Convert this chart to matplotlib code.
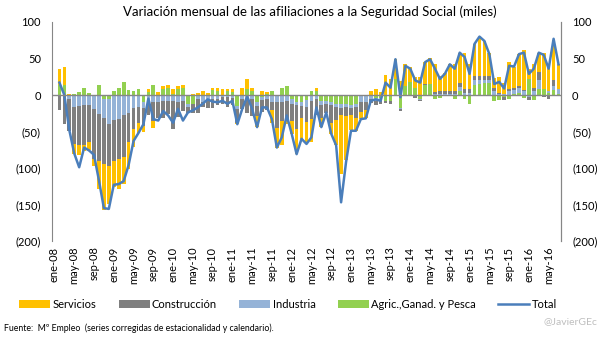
import numpy as np
import matplotlib.pyplot as plt

# monthly change in social security affiliation (thousands), ene-08 .. jul-16
meses = ['ene', 'feb', 'mar', 'abr', 'may', 'jun', 'jul', 'ago', 'sep', 'oct', 'nov', 'dic']
categorias = ['%s-%02d' % (m, a % 100) for a in range(2008, 2017) for m in meses][:103]

servicios = [np.nan,
    21, 24, 2, -14, -14, -8, -11, -9, -39, -64,
    -52, -35, -41, -37, -37, -25, -14, -9, 4, -10,
    4, 4, 4, 6, 5, 5, 0, 2, 3, 6,
    3, 3, 4, 8, 2, 4, -2, 10, 14, 4,
    -15, 6, 2, -18, -27, -33, -7, -17, -35, -28,
    -30, -31, 4, -12, 0, -15, -35, -80, -60, -20,
    -18, -10, -12, 6, 8, 4, 28, 22, 27, 19,
    30, 20, 14, 25, 30, 36, 38, 21, 25, 38,
    36, 42, 50, 34, 44, 54, 48, 32, 14, 22,
    14, 37, 30, 44, 55, 14, 33, 25, 50, 35,
    55, 35]
construccion = [np.nan,
    -18, -38, -43, -50, -53, -55, -51, -69, -64, -62,
    -57, -57, -55, -57, -41, -28, -21, -24, -18, -25,
    -22, -23, -18, -38, -20, -14, -9, -13, -20, -7,
    -13, -13, -9, -10, -13, -10, -19, -14, -18, -24,
    -14, -16, -15, -11, -35, -25, -25, -24, -32, -17,
    -20, -25, -22, -18, -12, -24, -17, -10, -12, -10,
    -14, -13, -11, -6, -6, -5, -3, -4, 0, -3,
    -1, -2, -3, -1, 1, -2, 3, 3, 3, 3,
    4, 5, 5, 5, 5, 5, 5, 5, 3, 1,
    -4, 3, 2, 3, 2, -4, 4, 11, -3, -5,
    8, -1]
industria = [np.nan,
    -2, -2, -6, -17, -15, -14, -14, -19, -26, -26,
    -35, -34, -33, -28, -24, -18, -17, -8, -10, -10,
    -9, -8, -8, -8, -10, -8, -3, 0, -5, -10,
    -5, -5, -5, -3, -3, -4, -4, -5, -6, -5,
    -5, -4, -6, -10, -9, -10, -8, -6, -4, -5,
    -10, -8, -5, -6, -4, -4, -5, -6, -5, -4,
    -5, -8, -7, -5, -4, -3, 0, 0, 0, -1,
    -1, 0, -1, -1, 0, 0, 1, 2, 2, 2,
    2, 5, 3, 3, 7, 6, 5, 5, 6, 2,
    2, 5, 6, 6, 5, -3, 6, 13, 0, 3,
    6, 6]
agricultura = [np.nan,
    14, 14, 0, 1, 4, 10, 3, 0, 14, -6,
    -5, 6, 10, 18, 7, 6, 8, -10, 4, 14,
    0, 8, 10, 2, 8, 9, -13, -12, 0, 0,
    0, 7, 6, 0, 6, 4, -15, 0, 8, 6,
    -10, -3, 2, 6, -1, 10, 12, -6, -10, -10,
    -7, 6, 6, -8, -8, -10, -12, -12, -12, -14,
    -12, -2, -2, 0, -4, -4, -8, -8, 22, -18,
    12, 18, 10, -6, 14, 15, -6, -4, -1, -1,
    -6, 6, -6, -13, 14, 15, 16, 16, -8, -7,
    -3, -5, 1, 3, -4, 22, -7, 8, 8, 3,
    7, 2]
total = [np.nan,
    17, 0, -48, -80, -99, -72, -76, -82, -117, -155,
    -156, -123, -122, -118, -96, -63, -52, -40, -5, -33,
    -35, -22, -28, -38, -19, -35, -24, -21, -17, -12,
    -6, -9, -10, -8, -12, -8, -40, -19, -2, -19,
    -44, -17, -17, -33, -72, -58, -28, -53, -81, -60,
    -67, -58, -17, -44, -24, -53, -69, -147, -92, -49,
    -49, -33, -32, -8, -6, -8, 17, 10, 49, -3,
    40, 36, 20, 17, 45, 49, 36, 22, 29, 42,
    36, 58, 52, 29, 70, 80, 74, 56, 15, 18,
    9, 40, 39, 56, 58, 29, 36, 58, 55, 36,
    77, 42]

series = [
    ('Agric.,Ganad. y Pesca', agricultura, '#92D050'),
    ('Industria', industria, '#95B3D7'),
    ('Construcción', construccion, '#7F7F7F'),
    ('Servicios', servicios, '#FFC000'),
]

plt.rcParams['font.family'] = ['Lato', 'DejaVu Sans']

fig = plt.figure(figsize=(6.05, 3.40), dpi=100)
ax = fig.add_axes([52 / 605, 1 - 241 / 340, 509 / 605, 219 / 340])

x = np.arange(len(categorias))
pos = np.zeros(len(x))
neg = np.zeros(len(x))
handles = {}
for name, vals, color in series:
    v = np.nan_to_num(np.array(vals, dtype=float))
    bottom = np.where(v >= 0, pos, neg)
    handles[name] = ax.bar(x, v, 0.75, bottom=bottom, color=color, linewidth=0, label=name)
    pos = pos + np.where(v >= 0, v, 0)
    neg = neg + np.where(v < 0, v, 0)

line, = ax.plot(x, total, color='#4A7EBB', lw=1.8, label='Total')
ax.axhline(0, color='#868686', lw=1)

ax.set_xlim(-0.5, len(x) - 0.5)
ax.set_ylim(-200, 100)
yt = [100, 50, 0, -50, -100, -150, -200]
ylab = [str(v) if v >= 0 else '(%d)' % -v for v in yt]
ax.set_yticks(yt)
ax.set_yticklabels(ylab)
ax.set_xticks(x[::4])
ax.set_xticklabels(categorias[::4], rotation=90)
ax.tick_params(axis='both', length=0, labelsize=8, colors='#000000')
ax.tick_params(axis='x', pad=4)
ax.tick_params(axis='y', pad=8)

for s in ['top', 'bottom']:
    ax.spines[s].set_visible(False)
for s in ['left', 'right']:
    ax.spines[s].set_color('#868686')

ax2 = ax.twinx()
ax2.set_ylim(-200, 100)
ax2.set_yticks(yt)
ax2.set_yticklabels(ylab)
ax2.tick_params(axis='y', length=0, labelsize=8, pad=8)
for s in ['top', 'bottom', 'left']:
    ax2.spines[s].set_visible(False)
ax2.spines['right'].set_color('#868686')

fig.text(310 / 605, 1 - 12 / 340, 'Variación mensual de las afiliaciones a la Seguridad Social (miles)',
         ha='center', va='center', fontsize=9.5)

order = ['Servicios', 'Construcción', 'Industria', 'Agric.,Ganad. y Pesca']
fig.legend([handles[n] for n in order] + [line], order + ['Total'],
           loc='center', bbox_to_anchor=(288 / 605, 1 - 304 / 340), ncol=5, frameon=False,
           fontsize=8, handlelength=2.8, handleheight=0.7, handletextpad=0.2, columnspacing=2.0)

fig.text(4 / 605, 1 - 328 / 340,
         'Fuente:  Mº Empleo  (series corregidas de estacionalidad y calendario).',
         ha='left', va='center', fontsize=6.3)
fig.text(597 / 605, 1 - 322 / 340, '@JavierGEc', ha='right', va='center', fontsize=7.5, color='#BFBFBF')

fig.savefig('out.png', dpi=100)
